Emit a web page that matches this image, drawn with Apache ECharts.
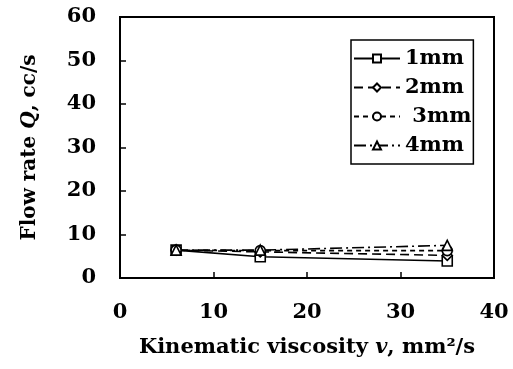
<!DOCTYPE html>
<html><head><meta charset="utf-8">
<script src="https://cdn.jsdelivr.net/npm/echarts@6/dist/echarts.min.js"></script>
<style>html,body{margin:0;padding:0;background:#fff}#c{width:513px;height:369px}</style>
</head><body><div id="c"></div>
<script>
const viscosity = [6, 15, 35];
const q1mm = [6.4, 4.9, 3.9];
const q2mm = [6.4, 6.0, 5.2];
const q3mm = [6.4, 6.3, 6.3];
const q4mm = [6.4, 6.4, 7.5];
const seriesNames = ['1mm', '2mm', ' 3mm', '4mm'];

const FONT = 'DejaVu Serif';
const pairs = v => viscosity.map((x, i) => [x, v[i]]);
function mk(name, data, symbol, dash) {
  return {
    name, type: 'line', data: pairs(data), symbol, symbolSize: 10,
    lineStyle: {color: '#000', width: 1.6, type: dash},
    itemStyle: {color: '#fff', borderColor: '#000', borderWidth: 1.6},
    z: 3
  };
}
const chart = echarts.init(document.getElementById('c'));
chart.setOption({
  animation: false,
  backgroundColor: '#fff',
  grid: {left: 120, right: 19, top: 17, bottom: 91, show: true, borderColor: '#000', borderWidth: 2, backgroundColor: 'transparent'},
  legend: {
    orient: 'vertical', left: 351, top: 40,
    borderColor: '#000', borderWidth: 1.5, backgroundColor: '#fff',
    padding: [8, 2, 8, 2], itemGap: 8, itemWidth: 46, itemHeight: 10,
    textStyle: {fontFamily: FONT, fontWeight: 'bold', fontSize: 21, color: '#000'},
    data: seriesNames
  },
  xAxis: {
    type: 'value', min: 0, max: 40, interval: 10,
    axisLine: {lineStyle: {color: '#000', width: 2}},
    axisTick: {inside: true, length: 6, lineStyle: {color: '#000', width: 1.5}},
    splitLine: {show: false},
    axisLabel: {fontFamily: FONT, fontWeight: 'bold', fontSize: 21, color: '#000', margin: 24},
    name: 'Kinematic viscosity {i|v}, mm²/s', nameLocation: 'middle', nameGap: 59,
    nameTextStyle: {fontFamily: FONT, fontWeight: 'bold', fontSize: 21, color: '#000',
      rich: {i: {fontFamily: FONT, fontWeight: 'bold', fontStyle: 'italic', fontSize: 21, color: '#000'}}}
  },
  yAxis: {
    type: 'value', min: 0, max: 60, interval: 10,
    axisLine: {lineStyle: {color: '#000', width: 2}},
    axisTick: {inside: true, length: 6, lineStyle: {color: '#000', width: 1.5}},
    splitLine: {show: false},
    axisLabel: {fontFamily: FONT, fontWeight: 'bold', fontSize: 21, color: '#000', margin: 24},
    name: 'Flow rate {i|Q}, cc/s', nameLocation: 'middle', nameGap: 80,
    nameTextStyle: {fontFamily: FONT, fontWeight: 'bold', fontSize: 20, color: '#000',
      rich: {i: {fontFamily: FONT, fontWeight: 'bold', fontStyle: 'italic', fontSize: 20, color: '#000'}}}
  },
  series: [
    mk(seriesNames[0], q1mm, 'rect', 'solid'),
    mk(seriesNames[1], q2mm, 'diamond', [9, 5]),
    mk(seriesNames[2], q3mm, 'circle', [5, 4]),
    mk(seriesNames[3], q4mm, 'triangle', [12, 4, 2, 4])
  ]
});
</script></body></html>
